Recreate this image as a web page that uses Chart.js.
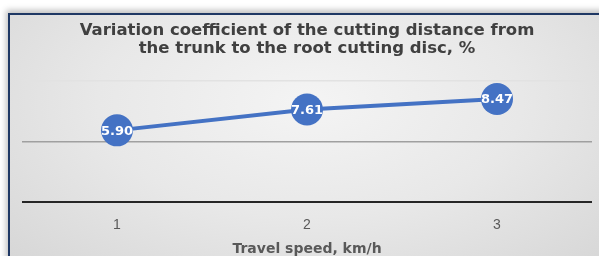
<!DOCTYPE html>
<html>
<head>
<meta charset="utf-8">
<script src="https://cdn.jsdelivr.net/npm/chart.js@4.4.0/dist/chart.umd.min.js"></script>
<style>
  html, body { margin: 0; padding: 0; background: #fff; overflow: hidden; }
  #frame {
    position: absolute; left: 8px; top: 13px; width: 600px; height: 250px;
    border-left: 2px solid #1f3864; border-top: 2px solid #1f3864;
    box-shadow: -2px -3px 6px rgba(0,0,0,0.25);
    background: radial-gradient(ellipse at 50% 35%, #f4f4f4 0%, #e8e8e8 50%, #d6d6d6 100%);
  }
  #chart { position: absolute; left: 0; top: 0; }
</style>
</head>
<body>
<div id="frame"><canvas id="chart" width="600" height="243"></canvas></div>
<script>
const speeds = ['1', '2', '3'];
const variation = [5.90, 7.61, 8.47];
const titleLines = ['Variation coefficient of the cutting distance from', 'the trunk to the root cutting disc, %'];
const xTitle = 'Travel speed, km/h';

// draws the value inside each marker
const valueLabels = {
  id: 'valueLabels',
  afterDatasetsDraw(chart) {
    const c = chart.ctx;
    const meta = chart.getDatasetMeta(0);
    c.save();
    c.fillStyle = '#ffffff';
    c.font = 'bold 13px "DejaVu Sans"';
    c.textAlign = 'center';
    c.textBaseline = 'middle';
    meta.data.forEach((pt, i) => {
      c.fillText(variation[i].toFixed(2), pt.x, pt.y + 1);
    });
    c.restore();
  }
};

const ctx = document.getElementById('chart').getContext('2d');
new Chart(ctx, {
  type: 'line',
  data: {
    labels: speeds,
    datasets: [{
      data: variation,
      borderColor: '#4472c4',
      backgroundColor: '#4472c4',
      borderWidth: 4,
      pointRadius: 16,
      pointHoverRadius: 16,
      pointBorderWidth: 0
    }]
  },
  options: {
    responsive: false,
    animation: false,
    layout: { autoPadding: false, padding: { left: 12, right: 18, top: 0, bottom: 0 } },
    plugins: {
      legend: { display: false },
      tooltip: { enabled: false },
      title: {
        display: true,
        text: titleLines,
        color: '#404040',
        font: { family: '"DejaVu Sans"', size: 16.5, weight: 'bold', lineHeight: 1.07 },
        padding: { top: 7, bottom: 23 }
      }
    },
    scales: {
      x: {
        offset: true,
        grid: { display: false, drawTicks: false },
        border: { display: false },
        ticks: { color: '#595959', font: { family: '"Liberation Sans", Arial', size: 14 }, padding: 14 },
        title: {
          display: true, text: xTitle, color: '#595959',
          font: { family: '"DejaVu Sans"', size: 14, weight: 'bold' },
          padding: { top: -6, bottom: 0 }
        }
      },
      y: {
        min: 0, max: 10,
        ticks: { display: false, stepSize: 5, padding: 0 },
        border: { display: false },
        grid: {
          drawTicks: false,
          color: c => c.tick.value === 0 ? '#262626' : (c.tick.value === 5 ? '#a0a0a0' : '#e2e2e2'),
          lineWidth: c => c.tick.value === 0 ? 2 : 1.5
        }
      }
    }
  },
  plugins: [valueLabels]
});
</script>
</body>
</html>
